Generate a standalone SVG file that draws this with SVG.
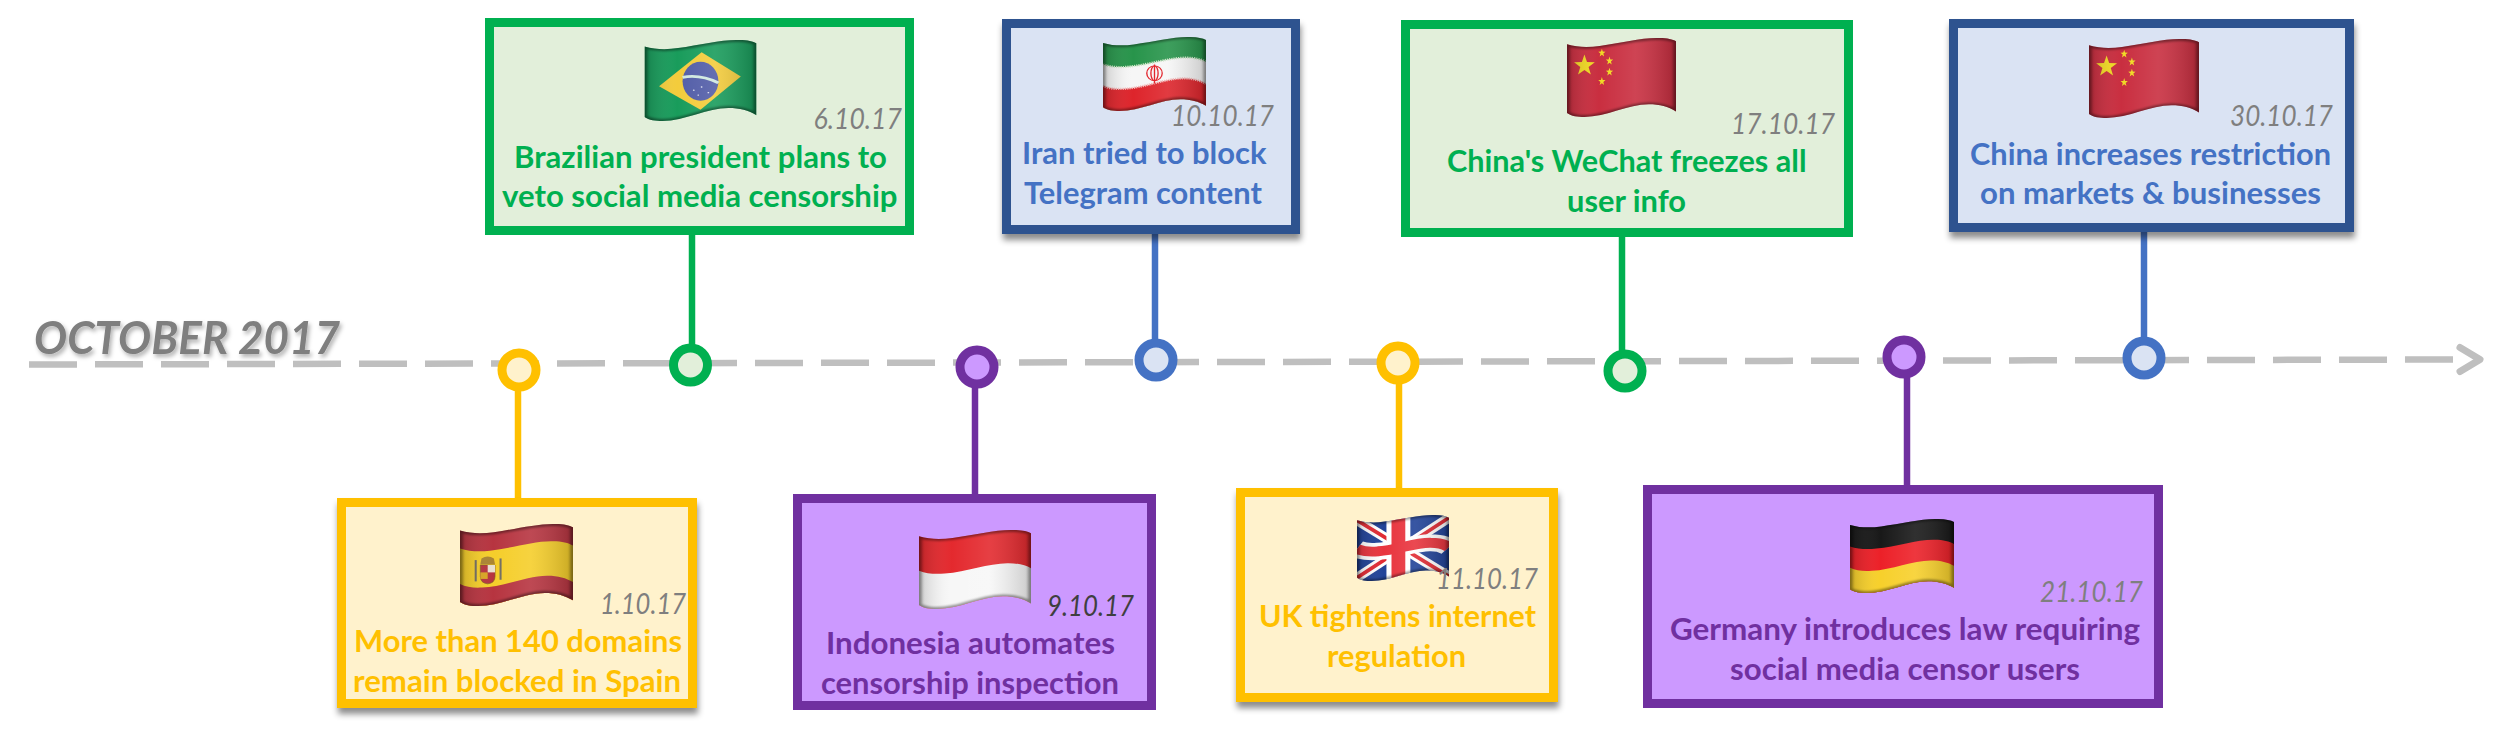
<svg xmlns="http://www.w3.org/2000/svg" xmlns:xlink="http://www.w3.org/1999/xlink" width="2512" height="731" viewBox="0 0 2512 731">
<style>
text{font-family:Lato,"Liberation Sans",sans-serif}
.t{font-weight:700;font-size:31px}
.d{font-style:italic;font-size:29px;fill:#7f7f7f}
.box{stroke-width:9}
.dot{stroke-width:9}
.stem{stroke-width:6.5;fill:none}
.green .box,.green .dot{stroke:#00b050;fill:#e2efda}.green .t{fill:#00b050}
.blue .box{stroke:#2f528f;fill:#dae3f3}.blue .dot{stroke:#4472c4;fill:#dae3f3}.blue .t{fill:#4472c4}
.yellow .box,.yellow .dot{stroke:#ffc000;fill:#fff2cc}.yellow .t{fill:#ffc000}
.purple .box,.purple .dot{stroke:#7030a0;fill:#cc99ff}.purple .t{fill:#7030a0}
</style>
<defs>
<filter id="boxshadow" x="-5%" y="-5%" width="110%" height="115%"><feDropShadow dx="1" dy="6" stdDeviation="3" flood-color="#000" flood-opacity=".45"/></filter>
<filter id="titleshadow" x="-5%" y="-20%" width="110%" height="150%"><feDropShadow dx="2" dy="3" stdDeviation="2" flood-color="#000" flood-opacity=".3"/></filter>
<filter id="soft" x="-10%" y="-10%" width="120%" height="120%"><feGaussianBlur stdDeviation="1.6"/></filter>
<linearGradient id="shade" x1="0" x2="1" y1="0" y2="0">
<stop offset="0" stop-color="#000" stop-opacity=".2"/><stop offset=".3" stop-color="#fff" stop-opacity=".02"/><stop offset=".62" stop-color="#fff" stop-opacity=".12"/><stop offset="1" stop-color="#000" stop-opacity=".2"/>
</linearGradient>
<marker id="chevron" markerUnits="userSpaceOnUse" markerWidth="44" markerHeight="40" refX="0" refY="20" orient="auto" overflow="visible"><path d="M4,8 L24,20 L4,32" fill="none" stroke="#bfbfbf" stroke-width="7" stroke-linecap="round" stroke-linejoin="round"/></marker>
<path id="flag-outline" d="M0,8 C10,12 20,12 30,10 C50,6 70,-1 85,0 C92,0 97,2 100,4 L100,93 C93,87 85,84 75,84 C56,84 36,100 16,100 C10,100 4,99 0,95 Z"/>
<clipPath id="flag-clip"><use href="#flag-outline"/></clipPath>
<polygon id="star" points="0,-1 .235,-.325 .951,-.309 .38,.124 .588,.809 0,.4 -.588,.809 -.38,.124 -.951,-.309 -.235,-.325"/>
<g id="flag-shade"><rect x="-2" y="-2" width="104" height="104" fill="url(#shade)"/><use href="#flag-outline" fill="none" stroke="#000" stroke-opacity=".4" stroke-width="5" filter="url(#soft)"/></g>
<g id="flag-germany" clip-path="url(#flag-clip)"><rect x="-2" y="-2" width="104" height="104" fill="#141414"/>
<path fill="#ec1c24" d="M0,37 C8,41 16.7,41.3 25.3,40 C45.3,37.3 65.3,27.3 81.7,28 C89.7,28 95.7,30.3 100,33.7 V110 H-5 Z"/>
<path fill="#f7cf27" d="M0,66 C6,70 13.3,70.7 20.7,70 C40.7,68.7 60.7,55.7 78.3,56 C87.3,56 94.3,58.7 100,63.3 V110 H-5 Z"/>
<use href="#flag-shade"/></g>
<g id="flag-indonesia" clip-path="url(#flag-clip)"><rect x="-2" y="-2" width="104" height="104" fill="#e3252a"/>
<path fill="#f7f7f7" d="M0,51.5 C7,55.5 15,56 23,55 C43,53 63,41.5 80,42 C88.5,42 95,44.5 100,48.5 V110 H-5 Z"/>
<use href="#flag-shade"/></g>
<g id="flag-spain" clip-path="url(#flag-clip)"><rect x="-2" y="-2" width="104" height="104" fill="#b5303c"/>
<path fill="#f5cd26" d="M0,29.75 C8.5,33.75 17.5,34 26.5,32.5 C46.5,29.5 66.5,20.25 82.5,21 C90.25,21 96,23.25 100,26.25 V110 H-5 Z"/>
<path fill="#b5303c" d="M0,73.25 C5.5,77.25 12.5,78 19.5,77.5 C39.5,76.5 59.5,62.75 77.5,63 C86.75,63 94,65.75 100,70.75 V110 H-5 Z"/>
<rect x="13" y="44" width="1.800" height="26" fill="#6f6a60"/><rect x="35" y="42" width="1.800" height="26" fill="#6f6a60"/>
<path fill="#b5303c" stroke="#7a5a20" stroke-width=".7" d="M18,50 H31 V64 Q31,72 24.500,73 Q18,72 18,64 Z"/>
<rect x="24.500" y="50" width="6.500" height="9" fill="#e8e0d0"/><rect x="18" y="59" width="6.500" height="8" fill="#d9a520"/>
<path fill="#a9822f" d="M18,49 L19,42 Q24.500,37 30,42 L31,49 Z"/>
<use href="#flag-shade"/></g>
<g id="flag-brazil" clip-path="url(#flag-clip)"><rect x="-2" y="-2" width="104" height="104" fill="#149a58"/>
<path fill="#f3cb38" d="M13,57 L51,15 L86,45 L50,86 Z"/>
<ellipse cx="50" cy="51" rx="16" ry="24" fill="#4f5aa6"/>
<path d="M34,46 Q50,42 66,53" fill="none" stroke="#cfe8df" stroke-width="3.5"/>
<g fill="#e9ecf5"><circle cx="44" cy="62" r=".8"/><circle cx="51" cy="58" r=".8"/><circle cx="57" cy="65" r=".8"/><circle cx="48" cy="68" r=".8"/></g>
<use href="#flag-shade"/></g>
<g id="flag-iran" clip-path="url(#flag-clip)"><rect x="-2" y="-2" width="104" height="104" fill="#239247"/>
<path fill="#f6f6f6" d="M0,37 C8,41 16.7,41.3 25.3,40 C45.3,37.3 65.3,27.3 81.7,28 C89.7,28 95.7,30.3 100,33.7 V110 H-5 Z"/>
<path fill="#dd2027" d="M0,66 C6,70 13.3,70.7 20.7,70 C40.7,68.7 60.7,55.7 78.3,56 C87.3,56 94.3,58.7 100,63.3 V110 H-5 Z"/>
<path fill="none" stroke="#cfe6c8" stroke-width="3" stroke-dasharray="1.2 1" d="M0,37 C8,41 16.7,41.3 25.3,40 C45.3,37.3 65.3,27.3 81.7,28 C89.7,28 95.7,30.3 100,33.7"/>
<path fill="none" stroke="#f0b7b7" stroke-width="3" stroke-dasharray="1.2 1" d="M0,66 C6,70 13.3,70.7 20.7,70 C40.7,68.7 60.7,55.7 78.3,56 C87.3,56 94.3,58.7 100,63.3"/>
<g fill="none" stroke="#e0141c" stroke-width="1.3"><ellipse cx="50" cy="49" rx="7.5" ry="10"/><ellipse cx="50" cy="49" rx="3.5" ry="10"/><path d="M50,37 V63"/></g>
<use href="#flag-shade"/></g>
<g id="flag-china" clip-path="url(#flag-clip)"><rect x="-2" y="-2" width="104" height="104" fill="#c82a3c"/>
<g fill="#f0d820"><use href="#star" transform="translate(16,35) scale(10,14)"/><use href="#star" transform="translate(32,19) scale(3.5,5.5)"/><use href="#star" transform="translate(39,29) scale(3.5,5.5)"/><use href="#star" transform="translate(39,43) scale(3.5,5.5)"/><use href="#star" transform="translate(32,55) scale(3.5,5.5)"/></g>
<use href="#flag-shade"/></g>
<g id="flag-uk" clip-path="url(#flag-clip)"><rect x="-2" y="-2" width="104" height="104" fill="#1d3f96"/>
<g fill="none"><g stroke="#fff" stroke-width="13"><path d="M0,8 L100,93"/><path d="M100,4 L0,95"/></g><g stroke="#e0262f" stroke-width="5"><path d="M0,8 L100,93"/><path d="M100,4 L0,95"/></g>
<path stroke="#fff" stroke-width="26" d="M45,-5 V105"/><path stroke="#fff" stroke-width="26" d="M0,51.5 C7,55.5 15,56 23,55 C43,53 63,41.5 80,42 C88.5,42 95,44.5 100,48.5"/>
<path stroke="#e8303a" stroke-width="15" d="M45,-5 V105"/><path stroke="#e8303a" stroke-width="15" d="M0,51.5 C7,55.5 15,56 23,55 C43,53 63,41.5 80,42 C88.5,42 95,44.5 100,48.5"/></g>
<use href="#flag-shade"/></g>
</defs>

<rect width="2512" height="731" fill="#fff"/>
<text id="title" x="34" y="354" font-size="46" font-style="italic" font-weight="700" fill="#7f7f7f" textLength="306" lengthAdjust="spacingAndGlyphs" filter="url(#titleshadow)">OCTOBER 2017</text>

<g id="connectors">
<path d="M29,364.500 L2456,359.500" fill="none" stroke="#bfbfbf" stroke-width="6.500" stroke-dasharray="48 18" marker-end="url(#chevron)"/>
<path class="stem" stroke="#00b050" d="M692,235 V346"/>
<path class="stem" stroke="#4472c4" d="M1155,234 V342"/>
<path class="stem" stroke="#00b050" d="M1622,237 V352"/>
<path class="stem" stroke="#4472c4" d="M2144,232 V340"/>
<path class="stem" stroke="#ffc000" d="M518,388 V498"/>
<path class="stem" stroke="#7030a0" d="M975,385 V494"/>
<path class="stem" stroke="#ffc000" d="M1399,381 V488"/>
<path class="stem" stroke="#7030a0" d="M1907,375 V485"/>
</g>

<g id="node-spain" class="yellow">
<rect class="box" x="341.500" y="502.500" width="351" height="201" filter="url(#boxshadow)"/>
<use href="#flag-spain" transform="translate(460,524) scale(1.13,.82)"/>
<text class="d" x="600" y="614" textLength="86" lengthAdjust="spacingAndGlyphs">1.10.17</text>
<text class="t" x="354" y="652" textLength="328" lengthAdjust="spacingAndGlyphs">More than 140 domains</text>
<text class="t" x="353" y="692" textLength="328" lengthAdjust="spacingAndGlyphs">remain blocked in Spain</text>
<circle class="dot" cx="519" cy="370" r="17"/>
</g>
<g id="node-brazil" class="green">
<rect class="box" x="489.500" y="22.500" width="420" height="208"/>
<use href="#flag-brazil" transform="translate(644.500,40) scale(1.12,.81)"/>
<text class="d" x="813.500" y="129" textLength="88.500" lengthAdjust="spacingAndGlyphs">6.10.17</text>
<text class="t" x="514" y="168" textLength="373" lengthAdjust="spacingAndGlyphs">Brazilian president plans to</text>
<text class="t" x="502" y="207" textLength="395.500" lengthAdjust="spacingAndGlyphs">veto social media censorship</text>
<circle class="dot" cx="690.500" cy="365" r="17"/>
</g>
<g id="node-indonesia" class="purple">
<rect class="box" x="797.500" y="498.500" width="354" height="207"/>
<use href="#flag-indonesia" transform="translate(919,530) scale(1.12,.79)"/>
<text class="d" x="1047" y="616" textLength="87" lengthAdjust="spacingAndGlyphs" style="fill:#3f3f3f">9.10.17</text>
<text class="t" x="826" y="654" textLength="289" lengthAdjust="spacingAndGlyphs">Indonesia automates</text>
<text class="t" x="821" y="694" textLength="298" lengthAdjust="spacingAndGlyphs">censorship inspection</text>
<circle class="dot" cx="977" cy="367" r="17"/>
</g>
<g id="node-iran" class="blue">
<rect class="box" x="1006.500" y="23.500" width="289" height="206" filter="url(#boxshadow)"/>
<use href="#flag-iran" transform="translate(1103,37) scale(1.03,.74)"/>
<text class="d" x="1171" y="126" textLength="103" lengthAdjust="spacingAndGlyphs">10.10.17</text>
<text class="t" x="1022" y="164" textLength="244.500" lengthAdjust="spacingAndGlyphs">Iran tried to block</text>
<text class="t" x="1024" y="204" textLength="238" lengthAdjust="spacingAndGlyphs">Telegram content</text>
<circle class="dot" cx="1156" cy="360" r="17"/>
</g>
<g id="node-uk" class="yellow">
<rect class="box" x="1240.500" y="492.500" width="313" height="205" filter="url(#boxshadow)"/>
<use href="#flag-uk" transform="translate(1357,515) scale(.92,.66)"/>
<text class="d" x="1436" y="589" textLength="102" lengthAdjust="spacingAndGlyphs">11.10.17</text>
<text class="t" x="1259" y="627" textLength="277" lengthAdjust="spacingAndGlyphs">UK tightens internet</text>
<text class="t" x="1327" y="667" textLength="139" lengthAdjust="spacingAndGlyphs">regulation</text>
<circle class="dot" cx="1398" cy="363" r="17"/>
</g>
<g id="node-wechat" class="green">
<rect class="box" x="1405.500" y="24.500" width="443" height="208"/>
<use href="#flag-china" transform="translate(1567,38) scale(1.09,.79)"/>
<text class="d" x="1731" y="134" textLength="104" lengthAdjust="spacingAndGlyphs">17.10.17</text>
<text class="t" x="1447" y="172" textLength="359.500" lengthAdjust="spacingAndGlyphs">China's WeChat freezes all</text>
<text class="t" x="1567" y="212" textLength="119" lengthAdjust="spacingAndGlyphs">user info</text>
<circle class="dot" cx="1625" cy="371" r="17"/>
</g>
<g id="node-germany" class="purple">
<rect class="box" x="1647.500" y="489.500" width="511" height="214"/>
<use href="#flag-germany" transform="translate(1850,519) scale(1.04,.74)"/>
<text class="d" x="2040" y="602" textLength="103" lengthAdjust="spacingAndGlyphs">21.10.17</text>
<text class="t" x="1670" y="640" textLength="470" lengthAdjust="spacingAndGlyphs">Germany introduces law requiring</text>
<text class="t" x="1730" y="680" textLength="350" lengthAdjust="spacingAndGlyphs">social media censor users</text>
<circle class="dot" cx="1904" cy="357" r="17"/>
</g>
<g id="node-china" class="blue">
<rect class="box" x="1953.500" y="23.500" width="396" height="204" filter="url(#boxshadow)"/>
<use href="#flag-china" transform="translate(2089,39) scale(1.1,.79)"/>
<text class="d" x="2230" y="126" textLength="103" lengthAdjust="spacingAndGlyphs">30.10.17</text>
<text class="t" x="1970" y="165" textLength="361" lengthAdjust="spacingAndGlyphs">China increases restriction</text>
<text class="t" x="1980" y="204" textLength="341" lengthAdjust="spacingAndGlyphs">on markets &amp; businesses</text>
<circle class="dot" cx="2144" cy="358" r="17"/>
</g>
</svg>
